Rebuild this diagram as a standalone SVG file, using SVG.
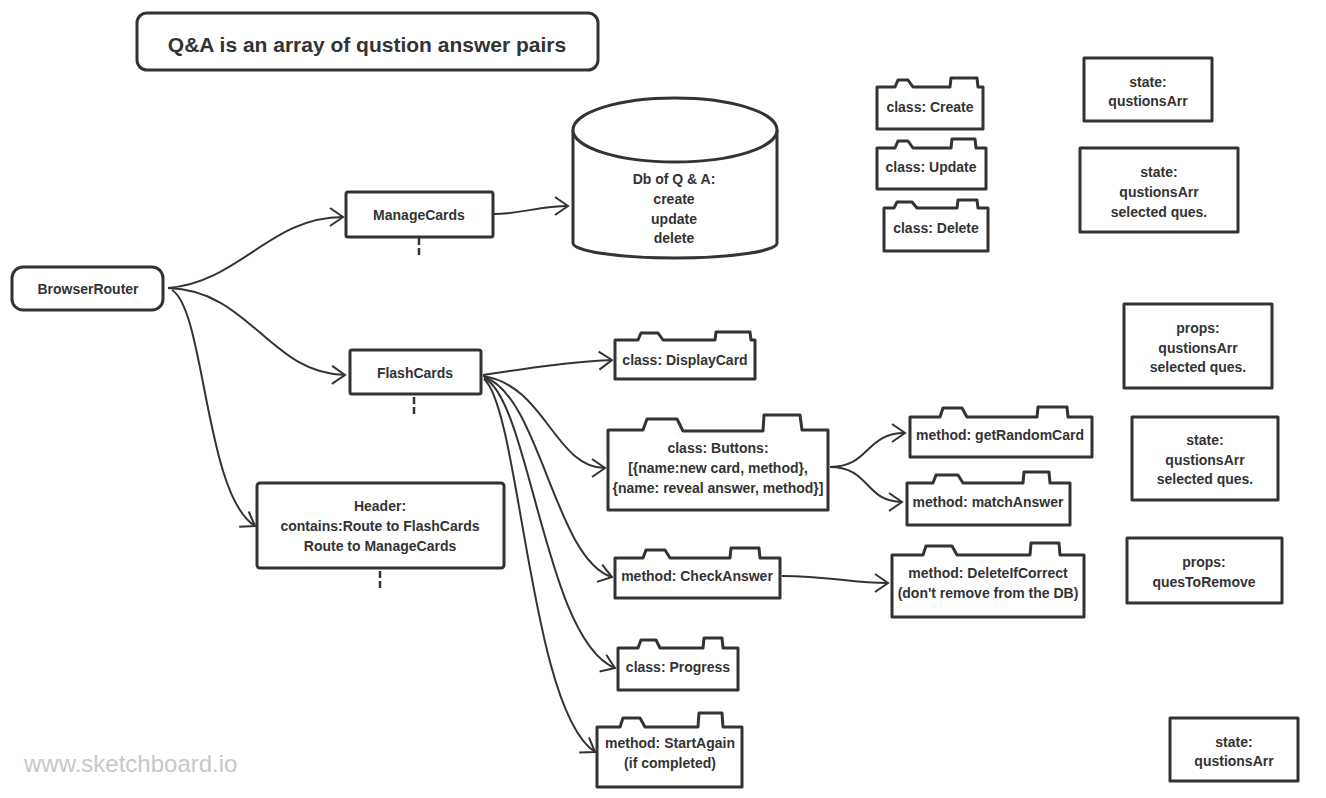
<svg xmlns="http://www.w3.org/2000/svg" width="1326" height="798" viewBox="0 0 1326 798">
<style>
.box{fill:#fff;stroke:#333;stroke-width:3;stroke-linejoin:round}
.t{font-family:"Liberation Sans",Arial,sans-serif;font-weight:bold;font-size:14px;fill:#333;text-anchor:middle;dominant-baseline:central}
.c{fill:none;stroke:#333;stroke-width:2;marker-end:url(#arr)}
.stub{stroke:#333;stroke-width:2.5;stroke-dasharray:7 3}
</style>
<defs>
<marker id="arr" viewBox="-15 -11 17 22" refX="0" refY="0" markerWidth="17" markerHeight="22" markerUnits="userSpaceOnUse" orient="auto">
<path d="M-13,-9 L0,0 L-13,9" fill="none" stroke="#333" stroke-width="2" stroke-linejoin="miter"/>
</marker>
</defs>
<rect width="1326" height="798" fill="#fff"/>
<text x="24" y="772" style="font-family:'Liberation Sans',Arial,sans-serif;font-size:24px;fill:#c8c8c8">www.sketchboard.io</text>

<g id="connectors">
<path class="c" d="M168,288 C240,282 270,217 343,217"/>
<path class="c" d="M168,288 C250,290 270,374 345,375"/>
<path class="c" d="M172,290 C205,310 205,495 255,526"/>
<path class="c" d="M494,214 C520,214 540,206 568,206"/>
<path class="c" d="M483,375 C530,368 570,362 612,360"/>
<path class="c" d="M483,376 C545,385 555,468 605,468"/>
<path class="c" d="M484,377 C540,395 555,560 612,577"/>
<path class="c" d="M484,378 C530,400 545,640 615,668"/>
<path class="c" d="M484,379 C520,410 530,710 595,752"/>
<path class="c" d="M830,467 C870,467 865,433 905,433"/>
<path class="c" d="M830,467 C870,467 865,502 902,502"/>
<path class="c" d="M782,576 C830,576 850,583 888,583"/>
<line class="stub" x1="419" y1="238" x2="419" y2="257"/>
<line class="stub" x1="414" y1="397" x2="414" y2="416"/>
<line class="stub" x1="380" y1="571" x2="380" y2="589"/>
</g>

<g id="title">
<rect class="box" x="137" y="13" width="461" height="57" rx="10"/>
<text class="t" x="367" y="44" style="font-size:21px">Q&amp;A is an array of qustion answer pairs</text>
</g>

<g id="browserRouter">
<rect class="box" x="12" y="267" width="151" height="43" rx="11"/>
<text class="t" x="88" y="289">BrowserRouter</text>
</g>

<g id="manageCards">
<rect class="box" x="346" y="192" width="147" height="45" rx="2"/>
<text class="t" x="419" y="215">ManageCards</text>
</g>

<g id="flashCards">
<rect class="box" x="350" y="350" width="131" height="44" rx="2"/>
<text class="t" x="415" y="373">FlashCards</text>
</g>

<g id="header">
<rect class="box" x="257" y="483" width="247" height="85" rx="3"/>
<text class="t" x="380" y="506">Header:</text>
<text class="t" x="380" y="526">contains:Route to FlashCards</text>
<text class="t" x="380" y="546">Route to ManageCards</text>
</g>

<g id="db">
<path class="box" d="M573,130 V243 A102,15 0 0 0 777,243 V130"/>
<ellipse class="box" cx="675" cy="130" rx="102" ry="32"/>
<text class="t" x="674" y="179">Db of Q &amp; A:</text>
<text class="t" x="674" y="199">create</text>
<text class="t" x="674" y="219">update</text>
<text class="t" x="674" y="238">delete</text>
</g>

<g id="create">
<path class="box" d="M877,87 H895 L898,80 H908 L913,87 H950 L951,78 H977 L978,87 H983 V129 H877 Z"/>
<text class="t" x="930" y="107">class: Create</text>
</g>
<g id="update">
<path class="box" d="M877,148 H895 L898,141 H908 L913,148 H951 L952,139 H975 L976,148 H986 V189 H877 Z"/>
<text class="t" x="931" y="167">class: Update</text>
</g>
<g id="delete">
<path class="box" d="M884,208 H894 L897,202 H912 L917,208 H957 L958,200 H977 L978,208 H988 V251 H884 Z"/>
<text class="t" x="936" y="228">class: Delete</text>
</g>

<g id="displayCard">
<path class="box" d="M615,340 H638 L641,333 H658 L663,340 H715 L716,332 H750 L751,340 H755 V379 H615 Z"/>
<text class="t" x="685" y="360">class: DisplayCard</text>
</g>

<g id="buttons">
<path class="box" d="M608,430 H643 L647,419 H677 L683,431 H763 L764,415 H800 L802,430 H828 V510 H608 Z"/>
<text class="t" x="718" y="448">class: Buttons:</text>
<text class="t" x="718" y="468">[{name:new card, method},</text>
<text class="t" x="718" y="488">{name: reveal answer, method}]</text>
</g>

<g id="getRandomCard">
<path class="box" d="M910,417 H940 L943,408 H962 L967,417 H1037 L1038,407 H1067 L1068,417 H1092 V457 H910 Z"/>
<text class="t" x="1000" y="435">method: getRandomCard</text>
</g>

<g id="matchAnswer">
<path class="box" d="M907,483 H933 L936,475 H958 L963,483 H1023 L1024,472 H1049 L1050,483 H1070 V525 H907 Z"/>
<text class="t" x="988" y="502">method: matchAnswer</text>
</g>

<g id="checkAnswer">
<path class="box" d="M615,558 H643 L646,550 H665 L670,558 H730 L731,548 H759 L760,558 H780 V598 H615 Z"/>
<text class="t" x="697" y="576">method: CheckAnswer</text>
</g>

<g id="deleteIfCorrect">
<path class="box" d="M892,555 H923 L926,546 H952 L957,555 H1030 L1031,543 H1059 L1060,555 H1084 V617 H892 Z"/>
<text class="t" x="988" y="573">method: DeleteIfCorrect</text>
<text class="t" x="988" y="593">(don't remove from the DB)</text>
</g>

<g id="progress">
<path class="box" d="M618,648 H638 L641,640 H656 L660,648 H703 L704,638 H722 L723,648 H738 V690 H618 Z"/>
<text class="t" x="678" y="667">class: Progress</text>
</g>

<g id="startAgain">
<path class="box" d="M597,727 H620 L623,718 H640 L645,727 H698 L699,713 H722 L723,727 H742 V787 H597 Z"/>
<text class="t" x="670" y="743">method: StartAgain</text>
<text class="t" x="670" y="763">(if completed)</text>
</g>

<g id="state1">
<rect class="box" x="1084" y="58" width="128" height="63"/>
<text class="t" x="1148" y="82">state:</text>
<text class="t" x="1148" y="101">qustionsArr</text>
</g>
<g id="state2">
<rect class="box" x="1080" y="148" width="158" height="84"/>
<text class="t" x="1159" y="172">state:</text>
<text class="t" x="1159" y="192">qustionsArr</text>
<text class="t" x="1159" y="212">selected ques.</text>
</g>
<g id="props1">
<rect class="box" x="1124" y="304" width="148" height="84"/>
<text class="t" x="1198" y="328">props:</text>
<text class="t" x="1198" y="348">qustionsArr</text>
<text class="t" x="1198" y="367">selected ques.</text>
</g>
<g id="state3">
<rect class="box" x="1132" y="417" width="146" height="83"/>
<text class="t" x="1205" y="440">state:</text>
<text class="t" x="1205" y="460">qustionsArr</text>
<text class="t" x="1205" y="479">selected ques.</text>
</g>
<g id="props2">
<rect class="box" x="1127" y="538" width="155" height="65"/>
<text class="t" x="1204" y="562">props:</text>
<text class="t" x="1204" y="582">quesToRemove</text>
</g>
<g id="state4">
<rect class="box" x="1170" y="718" width="128" height="63"/>
<text class="t" x="1234" y="742">state:</text>
<text class="t" x="1234" y="761">qustionsArr</text>
</g>
</svg>
